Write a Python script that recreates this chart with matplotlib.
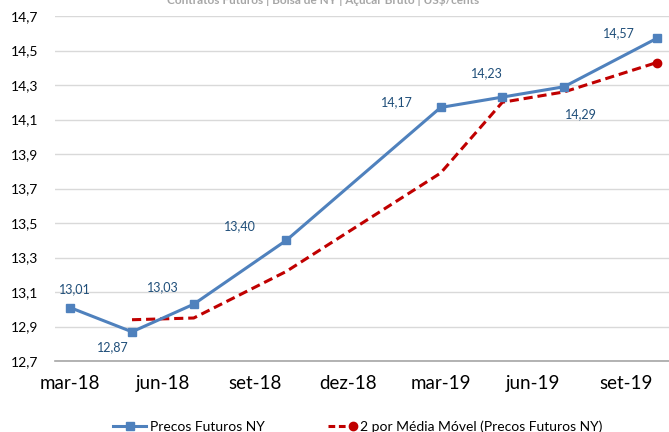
import matplotlib.pyplot as plt
from matplotlib.ticker import FixedLocator
from matplotlib.legend_handler import HandlerLine2D

plt.rcParams['font.family'] = ['Lato', 'DejaVu Sans']

# months of the contracts (year, month)
contratos = [(2018, 3), (2018, 5), (2018, 7), (2018, 10),
             (2019, 3), (2019, 5), (2019, 7), (2019, 10)]
precos_ny = [13.01, 12.87, 13.03, 13.40, 14.17, 14.23, 14.29, 14.57]
media_movel = [None, 12.94, 12.95, 13.22, 13.79, 14.20, 14.26, 14.43]
rotulos = ['13,01', '12,87', '13,03', '13,40', '14,17', '14,23', '14,29', '14,57']
# label offsets (pixels) relative to each point
desloc = [(5, 18), (-19, -15), (-31, 17), (-46, 14),
          (-44, 5), (-15, 24), (17, -27), (-38, 5)]

tick_meses = [(2018, 3), (2018, 6), (2018, 9), (2018, 12),
              (2019, 3), (2019, 6), (2019, 9)]
tick_labels = ['mar-18', 'jun-18', 'set-18', 'dez-18', 'mar-19', 'jun-19', 'set-19']


def mes_idx(ym):
    return (ym[0] - 2018) * 12 + ym[1] - 3


class HandlerMarcaFim(HandlerLine2D):
    # legend line with the marker only at its right end
    def create_artists(self, *args, **kwargs):
        artists = super().create_artists(*args, **kwargs)
        for a in artists:
            a.set_markevery([1])
        return artists


x = [mes_idx(c) for c in contratos]
azul = '#4F81BD'
vermelho = '#C00000'

fig = plt.figure(figsize=(6.69, 4.32), dpi=100)
ax = fig.add_axes([0.082, 0.164, 0.918, 0.799])

ax.plot(x, precos_ny, color=azul, lw=2.2, marker='s', ms=6,
        label='Precos Futuros NY', zorder=3)
xm = [xi for xi, v in zip(x, media_movel) if v is not None]
ym = [v for v in media_movel if v is not None]
ax.plot(xm, ym, color=vermelho, lw=2.2, ls=(0, (3, 1.6)), zorder=2)
ax.plot(xm[-1:], ym[-1:], color=vermelho, marker='o', ms=6, ls='none', zorder=4)
proxy, = ax.plot([], [], color=vermelho, lw=2.2, ls=(0, (2.2, 1.2)), marker='o', ms=6,
                 label='2 por Média Móvel (Precos Futuros NY)')

for xi, yi, t, (dx, dy) in zip(x, precos_ny, rotulos, desloc):
    ax.annotate(t, (xi, yi), xytext=(dx, dy), textcoords='offset pixels',
                ha='center', va='center', fontsize=9, color='#1F4E79')

ax.set_xlim(-0.5, 19.4)
ax.set_ylim(12.7, 14.7)
yt = [12.7 + 0.2 * i for i in range(11)]
ax.yaxis.set_major_locator(FixedLocator(yt))
ax.set_yticklabels([f'{v:.1f}'.replace('.', ',') for v in yt], fontsize=10)
ax.set_xticks([mes_idx(m) for m in tick_meses])
ax.set_xticklabels(tick_labels, fontsize=13.5)
ax.tick_params(axis='both', length=0)
ax.tick_params(axis='x', pad=10)
ax.tick_params(axis='y', pad=12)

ax.grid(axis='y', color='#D9D9D9', lw=1)
for s in ['top', 'right', 'left']:
    ax.spines[s].set_visible(False)
ax.spines['bottom'].set_color('#A6A6A6')
ax.spines['bottom'].set_linewidth(1.2)

fig.text(0.483, 1.0, 'Contratos Futuros | Bolsa de NY | Açúcar Bruto | US$/cents',
         ha='center', va='center', fontsize=8.5, color='#A6A6A6', fontweight='bold')

fig.legend(loc='center', bbox_to_anchor=(0.535, 0.012), ncol=2, frameon=False,
           fontsize=10, handlelength=2.4, handletextpad=0.25, columnspacing=4.25,
           handler_map={proxy: HandlerMarcaFim(numpoints=2)})

fig.savefig('out.png', dpi=100)
